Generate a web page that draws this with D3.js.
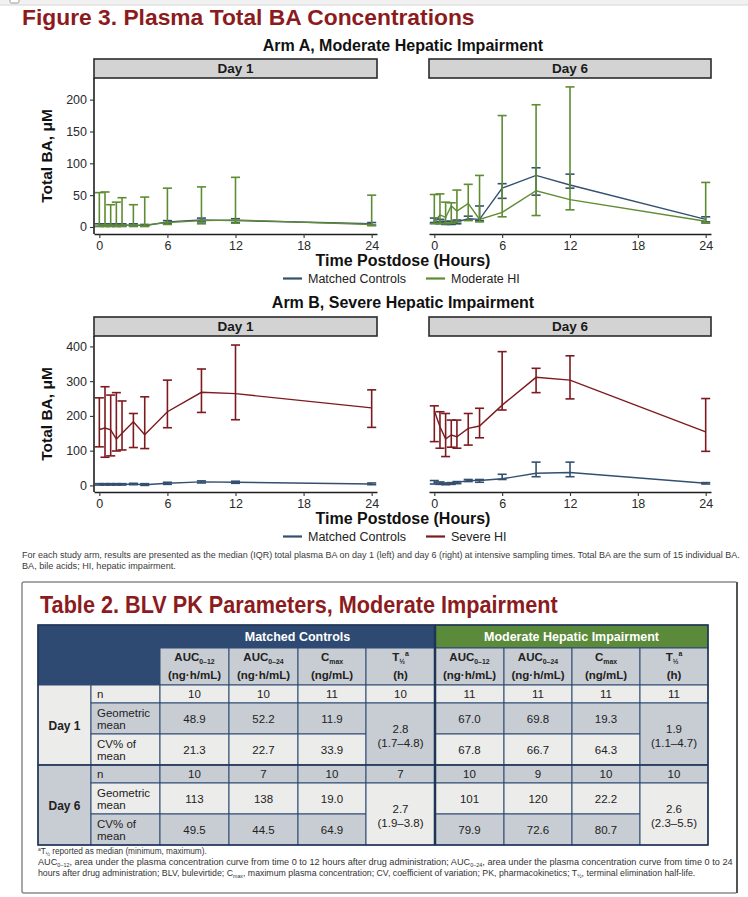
<!DOCTYPE html>
<html><head><meta charset="utf-8">
<script src="https://cdn.jsdelivr.net/npm/d3@7"></script>
<style>body{margin:0;background:#fff}svg{display:block}</style>
</head><body>
<svg id="c" width="748" height="897"></svg>
<script>
// ---------------- DATA ----------------
const times = [0, 0.5, 1, 1.5, 2, 3, 4, 6, 9, 12, 24];
const xTicks = [0, 6, 12, 18, 24];
const armAYTicks = [0, 50, 100, 150, 200];
const armBYTicks = [0, 100, 200, 300, 400];
const armAYDomain = [-11, 234];
const armBYDomain = [-19, 430];

// Arm A, Day 1
const aD1CtrlMed = [3, 3, 3, 3, 3, 3, 2, 8, 11, 10, 5];
const aD1CtrlQ1  = [1, 1, 1, 1, 1, 1, 1, 5, 8, 7, 3];
const aD1CtrlQ3  = [5, 5, 5, 5, 5, 5, 4, 10, 14, 13, 7];
const aD1ModMed  = [3, 4, 3, 3, 3, 3, 3, 7, 10, 11, 4];
const aD1ModQ1   = [1, 1, 1, 1, 1, 1, 1, 4, 5, 6, 2];
const aD1ModQ3   = [54, 55, 35, 39, 46, 35, 47, 61, 63, 78, 50];
// Arm A, Day 6
const aD6CtrlMed = [10, 8, 6, 6, 8, 13, 12, 61, 81, 66, 12];
const aD6CtrlQ1  = [7, 5, 4, 4, 5, 11, 10, 45, 50, 61, 8];
const aD6CtrlQ3  = [14, 12, 9, 9, 11, 17, 33, 68, 93, 83, 16];
const aD6ModMed  = [8, 19, 15, 33, 25, 37, 12, 23, 57, 43, 9];
const aD6ModQ1   = [5, 6, 5, 6, 8, 10, 8, 16, 18, 27, 6];
const aD6ModQ3   = [51, 52, 39, 38, 58, 67, 81, 175, 192, 220, 70];
// Arm B, Day 1
const bD1CtrlMed = [3, 3, 3, 3, 3, 4, 2, 6, 10, 9, 4];
const bD1CtrlQ1  = [1, 1, 1, 1, 1, 2, 0, 3, 7, 6, 2];
const bD1CtrlQ3  = [5, 5, 5, 5, 5, 6, 5, 9, 13, 12, 7];
const bD1SevMed  = [161, 165, 160, 133, 150, 183, 146, 212, 268, 264, 223];
const bD1SevQ1   = [111, 81, 85, 99, 102, 109, 106, 166, 210, 189, 167];
const bD1SevQ3   = [252, 284, 260, 267, 243, 207, 255, 303, 335, 404, 275];
// Arm B, Day 6
const bD6CtrlMed = [9, 6, 4, 5, 8, 14, 14, 19, 35, 37, 6];
const bD6CtrlQ1  = [4, 3, 2, 3, 5, 11, 9, 17, 25, 25, 4];
const bD6CtrlQ3  = [14, 10, 7, 8, 11, 17, 17, 32, 67, 67, 8];
const bD6SevMed  = [215, 169, 134, 145, 140, 164, 171, 231, 311, 303, 154];
const bD6SevQ1   = [126, 107, 83, 110, 107, 116, 137, 217, 267, 249, 98];
const bD6SevQ3   = [229, 212, 207, 188, 188, 207, 222, 385, 337, 373, 250];

const seriesNames = ["Matched Controls", "Moderate HI", "Severe HI"];

// Table 2
const tableGroups = ["Matched Controls", "Moderate Hepatic Impairment"];
const mcDay1N  = ["10", "10", "11", "10"];
const mcDay1GM = ["48.9", "52.2", "11.9"];
const mcDay1CV = ["21.3", "22.7", "33.9"];
const mcDay1T  = ["2.8", "(1.7–4.8)"];
const hiDay1N  = ["11", "11", "11", "11"];
const hiDay1GM = ["67.0", "69.8", "19.3"];
const hiDay1CV = ["67.8", "66.7", "64.3"];
const hiDay1T  = ["1.9", "(1.1–4.7)"];
const mcDay6N  = ["10", "7", "10", "7"];
const mcDay6GM = ["113", "138", "19.0"];
const mcDay6CV = ["49.5", "44.5", "64.9"];
const mcDay6T  = ["2.7", "(1.9–3.8)"];
const hiDay6N  = ["10", "9", "10", "10"];
const hiDay6GM = ["101", "120", "22.2"];
const hiDay6CV = ["79.9", "72.6", "80.7"];
const hiDay6T  = ["2.6", "(2.3–5.5)"];

// ---------------- STYLE ----------------
const C_BLUE = "#34506f", C_GREEN = "#5e8c32", C_RED = "#7d1a1f";
const TITLE_RED = "#8c1b20";
const FONT = "'Liberation Sans', Arial, sans-serif";
const NARROW = "'Liberation Sans Narrow', 'Arial Narrow', 'Liberation Sans', Arial, sans-serif";

const svg = d3.select("#c").style("font-family", FONT);

function fitWidth(sel, x, w) {
  const cur = sel.node().getComputedTextLength();
  if (cur > 0) sel.attr("transform", `translate(${x},0) scale(${w / cur},1) translate(${-x},0)`);
}
function rich(g, x, y, segs, size, anchor, extra) {
  const t = g.append("text").attr("x", x).attr("y", y).attr("text-anchor", anchor || "start").attr("font-size", size);
  if (extra) extra(t);
  let cur = 0;
  segs.forEach(s => {
    const off = s.sub ? size * 0.25 : s.sup ? -size * 0.4 : 0;
    t.append("tspan").attr("dy", off - cur).attr("font-size", (s.sub || s.sup) ? size * 0.6 : size).text(s.t);
    cur = off;
  });
  return t;
}

// top band artifact
svg.append("rect").attr("x", 0).attr("y", 0).attr("width", 748).attr("height", 5).attr("fill", "#f1f1f1");
svg.append("line").attr("x1", 0).attr("x2", 748).attr("y1", 5).attr("y2", 5).attr("stroke", "#d6d6d6");
svg.append("rect").attr("x", 10).attr("y", -3).attr("width", 9).attr("height", 6).attr("rx", 1.5).attr("fill", "#fff").attr("stroke", "#999");

// Figure title
const ft = svg.append("text").attr("x", 22).attr("y", 25).attr("font-size", 21.5).attr("font-weight", "bold")
  .attr("fill", TITLE_RED).text("Figure 3. Plasma Total BA Concentrations");
fitWidth(ft, 22, 453);

// ---------------- PANELS ----------------
function panel(o) {
  const x = d3.scaleLinear().domain([-0.47, 24.47]).range([o.x0, o.x1]);
  const y = d3.scaleLinear().domain(o.yDomain).range([o.bottom, o.top]);
  svg.append("rect").attr("x", o.x0).attr("y", o.stripTop).attr("width", o.x1 - o.x0).attr("height", o.top - o.stripTop)
    .attr("fill", "#d3d3d3").attr("stroke", "#2b2b2b").attr("stroke-width", 1.6);
  svg.append("text").attr("x", (o.x0 + o.x1) / 2).attr("y", (o.stripTop + o.top) / 2 + 4.8).attr("text-anchor", "middle")
    .attr("font-size", 13.5).attr("font-weight", "bold").attr("fill", "#1a1a1a").text(o.label);
  o.series.forEach(s => {
    const g = svg.append("g").attr("stroke", s.color).attr("fill", "none").attr("stroke-width", 1.6);
    times.forEach((t, i) => {
      g.append("line").attr("x1", x(t)).attr("x2", x(t)).attr("y1", y(s.q1[i])).attr("y2", y(s.q3[i]));
      g.append("line").attr("x1", x(t - 0.4)).attr("x2", x(t + 0.4)).attr("y1", y(s.q1[i])).attr("y2", y(s.q1[i]));
      g.append("line").attr("x1", x(t - 0.4)).attr("x2", x(t + 0.4)).attr("y1", y(s.q3[i])).attr("y2", y(s.q3[i]));
    });
    svg.append("path").datum(times.map((t, i) => [t, s.med[i]]))
      .attr("d", d3.line().x(d => x(d[0])).y(d => y(d[1])))
      .attr("fill", "none").attr("stroke", s.color).attr("stroke-width", 1.4);
  });
  const xa = svg.append("g").attr("transform", `translate(0,${o.bottom})`)
    .call(d3.axisBottom(x).tickValues(xTicks).tickSize(4).tickSizeOuter(0).tickPadding(3));
  styleAxis(xa);
  if (o.showY) {
    const ya = svg.append("g").attr("transform", `translate(${o.x0},0)`)
      .call(d3.axisLeft(y).tickValues(o.yTicks).tickSize(4).tickSizeOuter(0).tickPadding(3));
    styleAxis(ya);
    ya.select(".domain").attr("d", `M0,${o.top}V${o.bottom}`);
  }
}
function styleAxis(a) {
  a.select(".domain").attr("stroke", "#1e1e1e").attr("stroke-width", 1.6);
  a.selectAll(".tick line").attr("stroke", "#333").attr("stroke-width", 1.1);
  a.selectAll(".tick text").attr("fill", "#2a2a2a").attr("font-size", 12.5).attr("font-family", FONT);
}

function arm(o) {
  svg.append("text").attr("x", 403).attr("y", o.titleY).attr("text-anchor", "middle").attr("font-size", 16)
    .attr("font-weight", "bold").attr("fill", "#111").text(o.title);
  svg.append("text").attr("transform", `translate(52,${(o.top + o.bottom) / 2}) rotate(-90)`).attr("text-anchor", "middle")
    .attr("font-size", 15.5).attr("font-weight", "bold").attr("fill", "#111").text("Total BA, μM");
  panel({x0: 94, x1: 377, top: o.top, bottom: o.bottom, stripTop: o.stripTop, yDomain: o.yDomain, yTicks: o.yTicks,
    showY: true, label: "Day 1", series: o.d1});
  panel({x0: 429, x1: 711, top: o.top, bottom: o.bottom, stripTop: o.stripTop, yDomain: o.yDomain, yTicks: o.yTicks,
    showY: false, label: "Day 6", series: o.d6});
  svg.append("text").attr("x", 403).attr("y", o.bottom + 32).attr("text-anchor", "middle").attr("font-size", 16)
    .attr("font-weight", "bold").attr("fill", "#111").text("Time Postdose (Hours)");
  const ly = o.bottom + 44.5;
  const items = [{n: seriesNames[0], c: C_BLUE, x: 283}, {n: o.hiName, c: o.hiColor, x: 426}];
  items.forEach(it => {
    svg.append("line").attr("x1", it.x).attr("x2", it.x + 19).attr("y1", ly).attr("y2", ly).attr("stroke", it.c).attr("stroke-width", 2.2);
    svg.append("text").attr("x", it.x + 25).attr("y", ly + 4.5).attr("font-size", 12.5).attr("fill", "#222").text(it.n);
  });
}

arm({title: "Arm A, Moderate Hepatic Impairment", titleY: 51, stripTop: 59, top: 78, bottom: 234,
  yDomain: armAYDomain, yTicks: armAYTicks, hiName: seriesNames[1], hiColor: C_GREEN,
  d1: [{color: C_BLUE, med: aD1CtrlMed, q1: aD1CtrlQ1, q3: aD1CtrlQ3}, {color: C_GREEN, med: aD1ModMed, q1: aD1ModQ1, q3: aD1ModQ3}],
  d6: [{color: C_BLUE, med: aD6CtrlMed, q1: aD6CtrlQ1, q3: aD6CtrlQ3}, {color: C_GREEN, med: aD6ModMed, q1: aD6ModQ1, q3: aD6ModQ3}]});
arm({title: "Arm B, Severe Hepatic Impairment", titleY: 307.5, stripTop: 317, top: 336, bottom: 492,
  yDomain: armBYDomain, yTicks: armBYTicks, hiName: seriesNames[2], hiColor: C_RED,
  d1: [{color: C_BLUE, med: bD1CtrlMed, q1: bD1CtrlQ1, q3: bD1CtrlQ3}, {color: C_RED, med: bD1SevMed, q1: bD1SevQ1, q3: bD1SevQ3}],
  d6: [{color: C_BLUE, med: bD6CtrlMed, q1: bD6CtrlQ1, q3: bD6CtrlQ3}, {color: C_RED, med: bD6SevMed, q1: bD6SevQ1, q3: bD6SevQ3}]});

// caption
const cap1 = svg.append("text").attr("x", 22).attr("y", 558).attr("font-size", 9).attr("fill", "#3a3a3a")
  .text("For each study arm, results are presented as the median (IQR) total plasma BA on day 1 (left) and day 6 (right) at intensive sampling times. Total BA are the sum of 15 individual BA.");
fitWidth(cap1, 22, 719);
const cap2 = svg.append("text").attr("x", 22).attr("y", 569).attr("font-size", 9).attr("fill", "#3a3a3a")
  .text("BA, bile acids; HI, hepatic impairment.");
fitWidth(cap2, 22, 154);

// ---------------- TABLE ----------------
svg.append("rect").attr("x", 22).attr("y", 582).attr("width", 715).attr("height", 311).attr("rx", 2)
  .attr("fill", "#fff").attr("stroke", "#8a8a8a").attr("stroke-width", 1.5);
svg.append("line").attr("x1", 737).attr("x2", 737).attr("y1", 582).attr("y2", 893).attr("stroke", "#555").attr("stroke-width", 2);
const tt = svg.append("text").attr("x", 40).attr("y", 613).attr("font-size", 24).attr("font-weight", "bold")
  .attr("fill", TITLE_RED).text("Table 2. BLV PK Parameters, Moderate Impairment");
fitWidth(tt, 40, 518);

const colX = [38, 91, 160, 229, 298, 366, 435, 504, 572, 640, 708];
const H1 = [625, 648], H2 = [648, 685];
const rowY = [685, 703, 734, 765, 783, 814, 845];
const BLUE_H = "#2e4a73", GREEN_H = "#5a8a3a", GRAY = "#c8cdd4", LIGHT = "#ececea", LINE = "#2e4a73";
const tg = svg.append("g").style("font-family", NARROW);
function cell(x0, x1, y0, y1, fill) {
  tg.append("rect").attr("x", x0).attr("y", y0).attr("width", x1 - x0).attr("height", y1 - y0)
    .attr("fill", fill).attr("stroke", LINE).attr("stroke-width", 1);
}
function ctext(x, y, s, o) {
  const t = tg.append("text").attr("x", x).attr("y", y).attr("text-anchor", (o && o.anchor) || "middle")
    .attr("font-size", (o && o.size) || 11.5).attr("fill", (o && o.fill) || "#222").text(s);
  if (o && o.bold) t.attr("font-weight", "bold");
  return t;
}
cell(colX[0], colX[2], H1[0], H2[1], BLUE_H);
cell(colX[2], colX[6], H1[0], H1[1], BLUE_H);
cell(colX[6], colX[10], H1[0], H1[1], GREEN_H);
ctext((colX[2] + colX[6]) / 2, 641, tableGroups[0], {fill: "#fff", size: 12.5, bold: true});
ctext((colX[6] + colX[10]) / 2, 641, tableGroups[1], {fill: "#fff", size: 12.5, bold: true});
const heads = [
  [[{t: "AUC"}, {t: "0–12", sub: true}], "(ng·h/mL)"],
  [[{t: "AUC"}, {t: "0–24", sub: true}], "(ng·h/mL)"],
  [[{t: "C"}, {t: "max", sub: true}], "(ng/mL)"],
  [[{t: "T"}, {t: "½", sub: true}, {t: "a", sup: true}], "(h)"]
];
for (let g = 0; g < 2; g++) {
  for (let k = 0; k < 4; k++) {
    const c = 2 + g * 4 + k;
    cell(colX[c], colX[c + 1], H2[0], H2[1], GRAY);
    const cx = (colX[c] + colX[c + 1]) / 2;
    rich(tg, cx, 661, heads[k][0], 11.5, "middle", t => t.attr("font-weight", "bold").attr("fill", "#222"));
    ctext(cx, 679, heads[k][1], {size: 11.5, bold: true});
  }
}
const blocks = [
  {label: "Day 1", stubFill: LIGHT, fills: [LIGHT, GRAY, LIGHT], tFill: GRAY, r: 0,
   mc: [mcDay1N, mcDay1GM, mcDay1CV, mcDay1T], hi: [hiDay1N, hiDay1GM, hiDay1CV, hiDay1T]},
  {label: "Day 6", stubFill: GRAY, fills: [GRAY, LIGHT, GRAY], tFill: LIGHT, r: 3,
   mc: [mcDay6N, mcDay6GM, mcDay6CV, mcDay6T], hi: [hiDay6N, hiDay6GM, hiDay6CV, hiDay6T]}
];
const rowLabels = [["n"], ["Geometric", "mean"], ["CV% of", "mean"]];
blocks.forEach(b => {
  const y0 = rowY[b.r], y3 = rowY[b.r + 3];
  cell(colX[0], colX[1], y0, y3, b.stubFill);
  ctext((colX[0] + colX[1]) / 2, (y0 + y3) / 2 + 4.5, b.label, {bold: true, size: 12});
  for (let j = 0; j < 3; j++) {
    const a = rowY[b.r + j], z = rowY[b.r + j + 1], mid = (a + z) / 2;
    cell(colX[1], colX[2], a, z, b.fills[j]);
    if (rowLabels[j].length === 1) ctext(colX[1] + 6, mid + 4, rowLabels[j][0], {anchor: "start"});
    else { ctext(colX[1] + 6, mid - 2, rowLabels[j][0], {anchor: "start"}); ctext(colX[1] + 6, mid + 10, rowLabels[j][1], {anchor: "start"}); }
    [b.mc, b.hi].forEach((grp, gi) => {
      const vals = grp[j];
      const nCols = j === 0 ? 4 : 3;
      for (let k = 0; k < nCols; k++) {
        const c = 2 + gi * 4 + k;
        cell(colX[c], colX[c + 1], a, z, b.fills[j]);
        ctext((colX[c] + colX[c + 1]) / 2, mid + 4, vals[k]);
      }
    });
  }
  [b.mc, b.hi].forEach((grp, gi) => {
    const c = 2 + gi * 4 + 3;
    const a = rowY[b.r + 1], z = rowY[b.r + 3], mid = (a + z) / 2;
    cell(colX[c], colX[c + 1], a, z, b.tFill);
    ctext((colX[c] + colX[c + 1]) / 2, mid - 1, grp[3][0]);
    ctext((colX[c] + colX[c + 1]) / 2, mid + 13, grp[3][1]);
  });
});
tg.append("line").attr("x1", colX[6]).attr("x2", colX[6]).attr("y1", H1[0]).attr("y2", rowY[6]).attr("stroke", "#1f3556").attr("stroke-width", 2.5);
tg.append("line").attr("x1", colX[0]).attr("x2", colX[10]).attr("y1", rowY[3]).attr("y2", rowY[3]).attr("stroke", "#1f3556").attr("stroke-width", 1.5);
tg.append("rect").attr("x", colX[0]).attr("y", H1[0]).attr("width", colX[10] - colX[0]).attr("height", rowY[6] - H1[0])
  .attr("fill", "none").attr("stroke", "#1f3556").attr("stroke-width", 1.5);

// footnotes
const fg = svg.append("g").attr("fill", "#333");
const f1 = rich(fg, 38, 854, [{t: "a", sup: true}, {t: "T"}, {t: "½", sub: true}, {t: " reported as median (minimum, maximum)."}], 8.5, "start");
fitWidth(f1, 38, 169);
const f2 = rich(fg, 38, 865, [{t: "AUC"}, {t: "0–12", sub: true}, {t: ", area under the plasma concentration curve from time 0 to 12 hours after drug administration; AUC"}, {t: "0–24", sub: true}, {t: ", area under the plasma concentration curve from time 0 to 24"}], 8.5, "start");
fitWidth(f2, 38, 695);
const f3 = rich(fg, 38, 876, [{t: "hours after drug administration; BLV, bulevirtide; C"}, {t: "max", sub: true}, {t: ", maximum plasma concentration; CV, coefficient of variation; PK, pharmacokinetics; T"}, {t: "½", sub: true}, {t: ", terminal elimination half-life."}], 8.5, "start");
fitWidth(f3, 38, 659);
</script>
</body></html>
